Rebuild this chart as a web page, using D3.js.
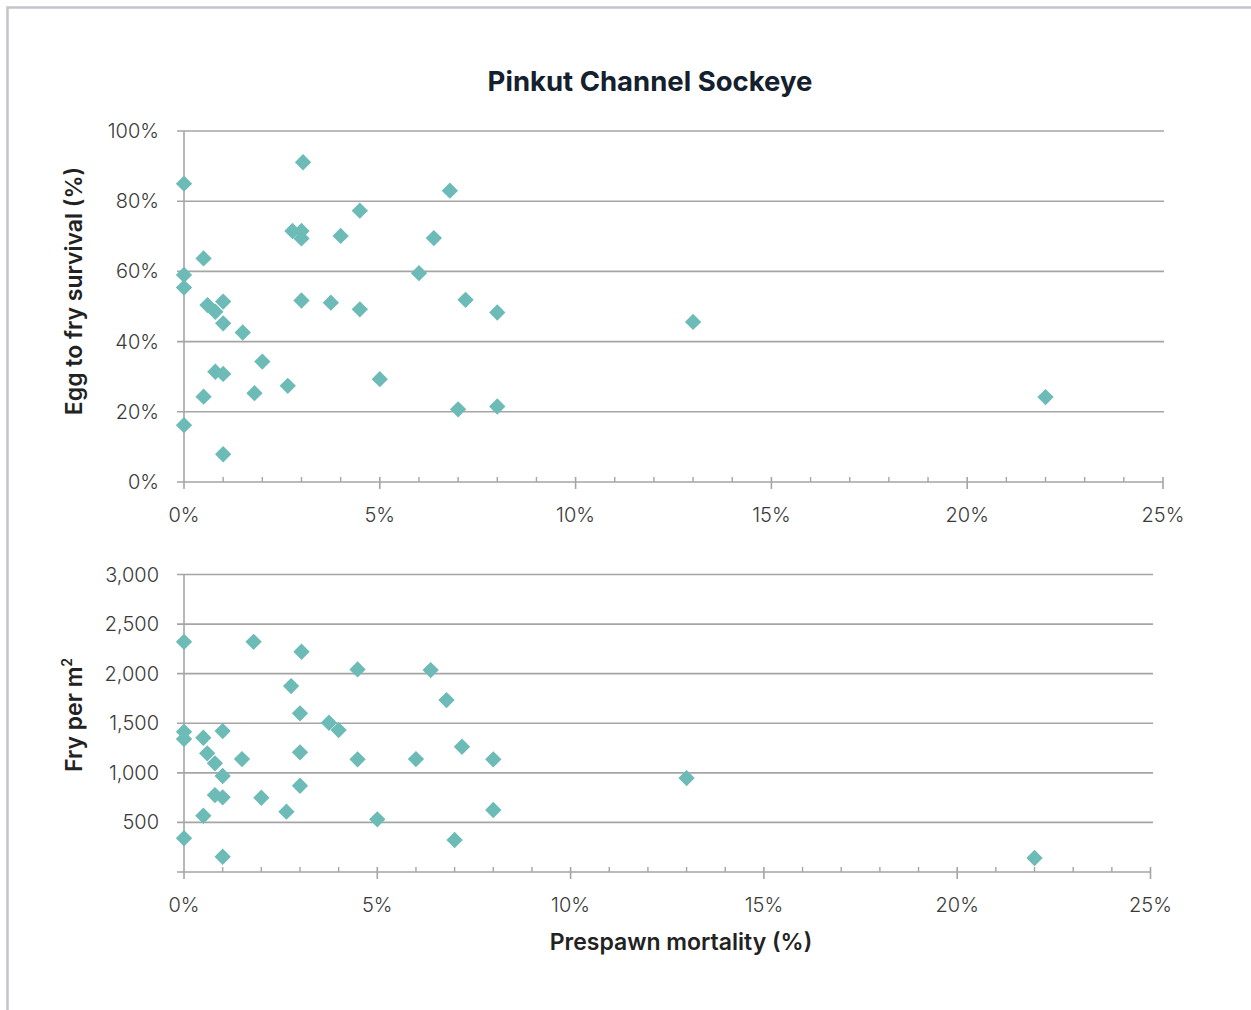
<!DOCTYPE html>
<html>
<head>
<meta charset="utf-8">
<script src="https://cdn.jsdelivr.net/npm/d3@7"></script>
<style>
  html, body { margin: 0; padding: 0; background: #fff; }
  svg { display: block; }
</style>
</head>
<body>
<svg id="chart" width="1251" height="1010"></svg>
<script>
// ---- Data ----
const title = "Pinkut Channel Sockeye";
const prespawnMortality = [0, 0, 0, 0, 0.5, 0.5, 0.6, 0.8, 0.8, 1, 1, 1, 1, 1.5, 1.8, 2.0, 2.65, 2.77, 3.04, 3, 3, 3, 3.75, 4.0, 4.49, 4.49, 5.0, 6.0, 6.38, 6.79, 7.0, 7.19, 8, 8, 13, 22];
const eggToFrySurvival = [85, 59, 55.4, 16.2, 63.7, 24.3, 50.4, 48.5, 31.4, 51.4, 45.2, 30.8, 7.9, 42.6, 25.3, 34.3, 27.4, 71.5, 91.1, 71.5, 69.4, 51.7, 51.1, 70.1, 77.3, 49.2, 29.3, 59.5, 69.5, 83.0, 20.7, 51.9, 48.3, 21.5, 45.6, 24.2];
const fryPerM2 = [2321, 1414, 1341, 340, 1354, 567, 1197, 1096, 776, 1421, 968, 753, 154, 1139, 2321, 749, 608, 1875, 2221, 1600, 1207, 870, 1505, 1431, 2043, 1136, 531, 1139, 2036, 1734, 323, 1263, 1136, 625, 947, 141];
const xTicks = [0, 5, 10, 15, 20, 25];
const xMinorTicks = d3.range(0, 26, 1);
const yTicksTop = [0, 20, 40, 60, 80, 100];
const yTicksBottom = [0, 500, 1000, 1500, 2000, 2500, 3000];

// ---- Styles ----
const markerColor = "#6dbbb7";
const gridColor = "#a5a5a5";
const textColor = "#3a3a3a";
const font = "Inter, Lato, 'Open Sans', sans-serif";

const svg = d3.select("#chart");

// frame
svg.append("path")
  .attr("d", "M7.5,1010 L7.5,7.5 L1251,7.5")
  .attr("fill", "none").attr("stroke", "#c3c3cb").attr("stroke-width", 2.5);

svg.append("text")
  .attr("x", 650).attr("y", 91)
  .attr("text-anchor", "middle")
  .attr("font-family", font).attr("font-weight", 700)
  .attr("font-size", 27.5).attr("fill", "#14202e")
  .text(title);

const diamond = d3.symbol().type(d3.symbolDiamond2).size(170);

function panel(opts) {
  const { x, y, yTicks, yFmt, values, gridRight, yLabel } = opts;
  const g = svg.append("g");
  const [y0] = y.range();
  const x0 = x(0);

  g.selectAll(".grid").data(yTicks.filter(d => d !== 0)).join("line")
    .attr("x1", x0 - 7).attr("x2", gridRight)
    .attr("y1", d => y(d)).attr("y2", d => y(d))
    .attr("stroke", gridColor).attr("stroke-width", 1.6);

  g.append("line")
    .attr("x1", x0 - 7).attr("x2", x(25))
    .attr("y1", y0).attr("y2", y0)
    .attr("stroke", gridColor).attr("stroke-width", 1.6);

  g.append("line")
    .attr("x1", x0).attr("x2", x0)
    .attr("y1", y(yTicks[yTicks.length - 1])).attr("y2", y0 + 7)
    .attr("stroke", gridColor).attr("stroke-width", 1.6);

  g.selectAll(".minor").data(xMinorTicks.filter(d => d % 5 !== 0)).join("line")
    .attr("x1", d => x(d)).attr("x2", d => x(d))
    .attr("y1", y0 - 5).attr("y2", y0)
    .attr("stroke", gridColor).attr("stroke-width", 1.4);

  g.selectAll(".major").data(xTicks.filter(d => d !== 0)).join("line")
    .attr("x1", d => x(d)).attr("x2", d => x(d))
    .attr("y1", y0 - 5).attr("y2", y0 + 7)
    .attr("stroke", gridColor).attr("stroke-width", 1.6);

  g.selectAll(".xl").data(xTicks).join("text")
    .attr("x", d => x(d)).attr("y", y0 + 40)
    .attr("text-anchor", "middle")
    .attr("font-family", font).attr("font-weight", 300)
    .attr("font-size", 20).attr("fill", textColor)
    .text(d => d + "%");

  g.selectAll(".yl").data(yTicks.filter(d => yFmt(d) !== "")).join("text")
    .attr("x", 159).attr("y", d => y(d) + 7)
    .attr("text-anchor", "end")
    .attr("font-family", font).attr("font-weight", 300)
    .attr("font-size", 20).attr("fill", textColor)
    .text(yFmt);

  const lab = g.append("text")
    .attr("transform", `translate(82,${yLabel.cy}) rotate(-90)`)
    .attr("text-anchor", "middle")
    .attr("font-family", font).attr("font-weight", 600)
    .attr("font-size", 23).attr("fill", "#222");
  lab.append("tspan").text(yLabel.text);
  if (yLabel.sup) {
    lab.append("tspan").attr("font-size", 14).attr("dy", -10).text(yLabel.sup);
  }

  g.selectAll(".pt").data(prespawnMortality.map((m, i) => [m, values[i]])).join("path")
    .attr("d", diamond)
    .attr("transform", d => `translate(${x(d[0])},${y(d[1])})`)
    .attr("fill", markerColor);
}

panel({
  x: d3.scaleLinear().domain([0, 25]).range([184, 1163]),
  y: d3.scaleLinear().domain([0, 100]).range([482, 131]),
  yTicks: yTicksTop,
  yFmt: d => d + "%",
  values: eggToFrySurvival,
  gridRight: 1164,
  yLabel: { text: "Egg to fry survival (%)", cy: 291 }
});

panel({
  x: d3.scaleLinear().domain([0, 25]).range([184, 1150.5]),
  y: d3.scaleLinear().domain([0, 3000]).range([872, 574.5]),
  yTicks: yTicksBottom,
  yFmt: d => d === 0 ? "" : d3.format(",")(d),
  values: fryPerM2,
  gridRight: 1153,
  yLabel: { text: "Fry per  m", sup: "2", cy: 715 }
});

svg.append("text")
  .attr("x", 681).attr("y", 950)
  .attr("text-anchor", "middle")
  .attr("font-family", font).attr("font-weight", 600)
  .attr("font-size", 23).attr("fill", "#222")
  .text("Prespawn mortality (%)");
</script>
</body>
</html>
